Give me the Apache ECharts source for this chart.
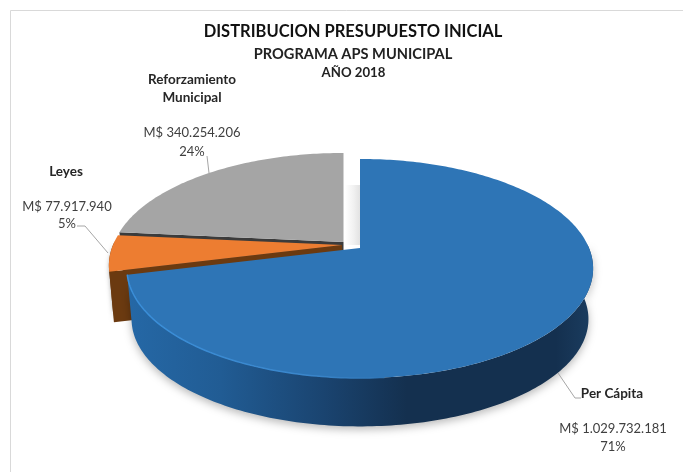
<!DOCTYPE html>
<html><head><meta charset="utf-8">
<style>html,body{margin:0;padding:0;background:#fff}#c{width:683px;height:472px}</style>
<script src="https://cdn.jsdelivr.net/npm/echarts@6/dist/echarts.min.js"></script>
</head><body><div id="c"></div>
<script>
const categories = ['Per Cápita', 'Leyes', 'Reforzamiento\nMunicipal'];
const values = [1029732181, 77917940, 340254206];
const valueLabels = ['M$ 1.029.732.181', 'M$ 77.917.940', 'M$ 340.254.206'];
const percentLabels = ['71%', '5%', '24%'];
const titleLines = ['DISTRIBUCION PRESUPUESTO INICIAL', 'PROGRAMA APS MUNICIPAL', 'AÑO 2018'];

const FONT = 'Lato, "Open Sans", sans-serif';
const A = 229, B = 105.7, K = 0.187, DEPTH = 51, TAPER = 0.98;
const centres = [[360, 248], [342, 245], [343.5, 242]];
const topColors = ['#2E75B6', '#ED7D31', '#A5A5A5'];
const sideColors = [
  {type:'linear',x:0,y:0,x2:1,y2:0,colorStops:[{offset:0,color:'#2568A6'},{offset:.2,color:'#215C94'},{offset:.42,color:'#1A4470'},{offset:.6,color:'#14304F'},{offset:.92,color:'#14304F'},{offset:1,color:'#1B3D60'}]},
  '#6B3A10', '#3B3B3B'];
const labelPos = [
  {name:[612,394], val:[613,429], pct:[613,447], line:[[558,373],[575,398],[581,398]]},
  {name:[66,172], val:[67,207], pct:[67,224], line:[[77,226],[85,226],[108,253]]},
  {name:[192,89], val:[192,133], pct:[192,152], line:[[207,156],[209,173]]}
];
const total = values.reduce((a,b)=>a+b,0);

function proj(c, deg, dy, s) {
  const t = deg*Math.PI/180, X = Math.sin(t), Y = -Math.cos(t), w = 1 - K*Y, f = s||1;
  return [c[0] + f*A*X/w, c[1] + f*B*Y/w + (dy||0)];
}
function arc(c, a0, a1, dy, s) {
  const pts = [], n = Math.max(2, Math.ceil(Math.abs(a1-a0)));
  for (let i=0;i<=n;i++) pts.push(proj(c, a0+(a1-a0)*i/n, dy, s));
  return pts;
}
function renderItem(params, api) {
  const i = params.dataIndex, v = api.value(0);
  let before = 0;
  for (let j=0;j<i;j++) before += values[j];
  const a0 = before/total*360, a1 = (before+v)/total*360, c = centres[i];
  const base = [20,10,0][i];   // painting order: grey, orange, blue on top
  const kids = [];
  // outer wall: only the part of the rim facing the viewer
  const f0 = Math.max(a0, 88), f1 = Math.min(a1, 272);
  if (f1 > f0) {
    const rim = arc(c, f0, f1, 0), low = arc(c, f1, f0, DEPTH, TAPER);
    kids.push({type:'polygon', z2:base+1, shape:{points:rim.concat(low)},
      style:{fill:sideColors[i], shadowBlur: i===0?9:4, shadowColor:'rgba(0,0,0,0.28)', shadowOffsetY:3}});
  }
  // cut face visible below the lower radial edge
  if (i > 0) {
    const p = proj(c, a0), q = proj(c, a0, DEPTH, TAPER);
    kids.push({type:'polygon', z2:base+1, shape:{points:[c,p,q,[c[0],c[1]+DEPTH]]}, style:{fill:i===1?'#6B3A10':'#3B3B3B'}});
  }
  kids.push({type:'polygon', z2:base+2, shape:{points:[c].concat(arc(c,a0,a1,0))}, style:{fill:topColors[i]}});
  if (i === 0) {
    // lit rim on the left front of the blue slice
    kids.push({type:'polyline', z2:base+3, shape:{points:arc(c,175,a1,0)},
      style:{stroke:{type:'linear',x:0,y:0,x2:1,y2:0,colorStops:[{offset:0,color:'#3A8FDA'},{offset:.7,color:'#3A86CB'},{offset:1,color:'#2E75B6'}]}, lineWidth:1.5, fill:null}});
  }
  const L = labelPos[i];
  kids.push({type:'polyline', z2:40, shape:{points:L.line}, style:{stroke:'#A6A6A6', lineWidth:1, fill:null}});
  kids.push({type:'text', z2:41, x:L.name[0], y:L.name[1], style:{text:categories[i], font:'bold 13.5px '+FONT, fill:'#262626', align:'center', verticalAlign:'middle', lineHeight:18}});
  kids.push({type:'text', z2:41, x:L.val[0], y:L.val[1], style:{text:valueLabels[i], font:'13px '+FONT, fill:'#404040', align:'center', verticalAlign:'middle'}});
  kids.push({type:'text', z2:41, x:L.pct[0], y:L.pct[1], style:{text:percentLabels[i], font:'13px '+FONT, fill:'#404040', align:'center', verticalAlign:'middle'}});
  return {type:'group', children:kids};
}

const chart = echarts.init(document.getElementById('c'), null, {renderer:'canvas'});
const tStyle = (s, col) => ({fontFamily:FONT, fontWeight:'bold', fontSize:s, color:col});
chart.setOption({
  animation:false,
  backgroundColor:'#fff',
  title:[
    {text:titleLines[0], left:353, top:32, padding:0, textAlign:'center', textVerticalAlign:'middle', textStyle:tStyle(16.5,'#111')},
    {text:titleLines[1], left:353, top:54, padding:0, textAlign:'center', textVerticalAlign:'middle', textStyle:tStyle(14.6,'#222')},
    {text:titleLines[2], left:353.5, top:73, padding:0, textAlign:'center', textVerticalAlign:'middle', textStyle:tStyle(13.2,'#222')}
  ],
  graphic:[{type:'polyline', silent:true, shape:{points:[[10.5,472],[10.5,10.5],[683,10.5]]}, style:{stroke:'#D9D9D9',fill:null,lineWidth:1}, z:0},
    {type:'rect', silent:true, shape:{x:345,y:185,width:15,height:60}, style:{fill:{type:'linear',x:0,y:0,x2:1,y2:0,colorStops:[{offset:0,color:'#FFFFFF'},{offset:.6,color:'#F0F0F0'},{offset:1,color:'#E2E2E2'}]}}, z:0}],
  series:[{type:'custom', coordinateSystem:'none', renderItem, silent:true, clip:false, z:5,
    data:values.map((v,i)=>({name:categories[i], value:[v]}))}]
});
</script></body></html>
